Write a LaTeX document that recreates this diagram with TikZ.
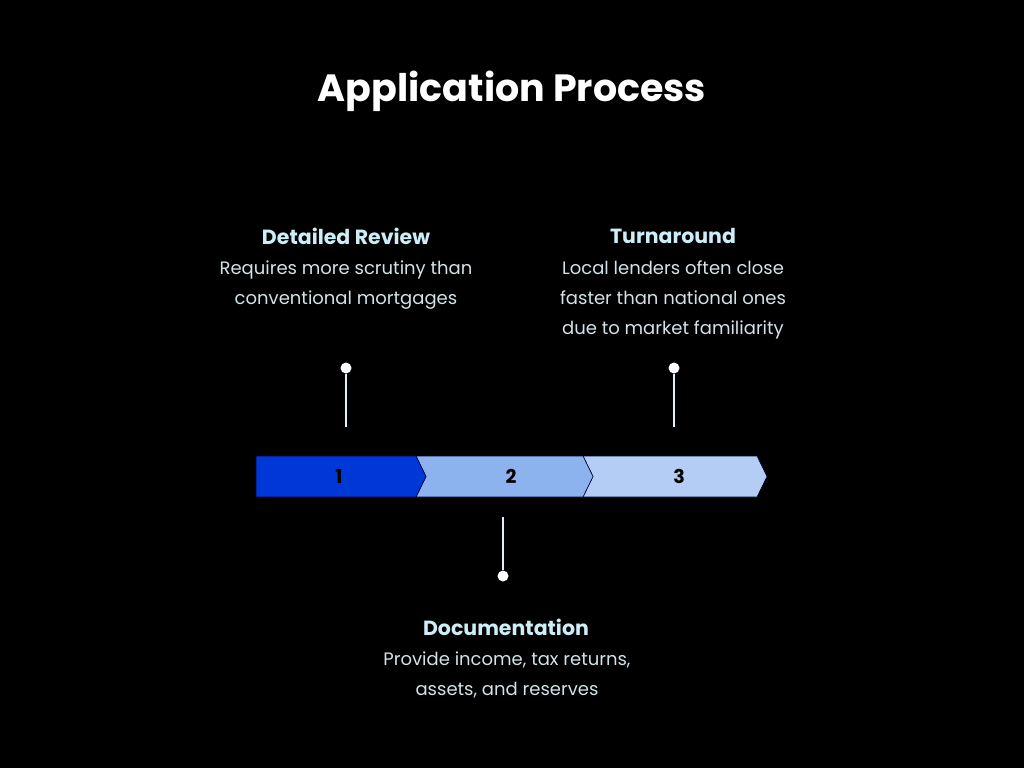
\documentclass[tikz,border=0pt]{standalone}
\usepackage{fontspec}
\setmainfont{Poppins}
\usetikzlibrary{positioning}
\definecolor{stepone}{HTML}{0038D8}
\definecolor{steptwo}{HTML}{8DB3EF}
\definecolor{stepthree}{HTML}{B4CDF5}
\definecolor{headcol}{HTML}{CDEEF7}
\definecolor{bodycol}{HTML}{D2E2E8}
\definecolor{pincol}{HTML}{DCF2F8}
\tikzset{
  head/.style={text=headcol, font=\fontsize{20.5}{24}\selectfont\bfseries},
  body/.style={text=bodycol, align=center, font=\fontsize{18}{30}\selectfont},
  dot/.style={circle, fill=white, inner sep=0pt, minimum size=11pt},
  stem/.style={draw=pincol, line width=2.5pt},
  chevron/.style={draw=black!80!blue, line width=0.6pt},
  num/.style={font=\fontsize{19}{22}\selectfont\bfseries, text=black}
}
\begin{document}
\begin{tikzpicture}[x=1pt, y=-1pt]
  \fill[black] (0,0) rectangle (1024,768);
  \useasboundingbox (0,0) rectangle (1024,768);

  % Title
  \node[text=white, font=\fontsize{38}{44}\selectfont\bfseries] (title) at (512,91) {Application Process};

  % Steps
  \filldraw[chevron, fill=stepthree] (583,456) -- (757,456) -- (767,476.5) -- (757,497) -- (583,497) -- (593,476.5) -- cycle;
  \filldraw[chevron, fill=steptwo] (416,456) -- (583,456) -- (593,476.5) -- (583,497) -- (416,497) -- (426,476.5) -- cycle;
  \filldraw[chevron, fill=stepone] (256,456) -- (416,456) -- (426,476.5) -- (416,497) -- (256,497) -- cycle;
  \node[num] (n1) at (339,476.5) {1};
  \node[num] (n2) at (511,476.5) {2};
  \node[num] (n3) at (679,476.5) {3};

  % Pins
  \node[dot] (p1) at (346,368) {};
  \node[dot] (p2) at (503,576) {};
  \node[dot] (p3) at (674,368) {};
  \coordinate (e1) at (346,427);
  \coordinate (e2) at (503,517);
  \coordinate (e3) at (674,427);
  \draw[stem] (p1) -- (e1);
  \draw[stem] (p2) -- (e2);
  \draw[stem] (p3) -- (e3);

  % Labels
  \node[head] (h1) at (346,236) {Detailed Review};
  \node[body] (b1) at (346,285) {Requires more scrutiny than\\conventional mortgages};
  \node[head] (h3) at (673,236) {Turnaround};
  \node[body] (b3) at (673,300) {Local lenders often close\\faster than national ones\\due to market familiarity};
  \node[head] (h2) at (506,627) {Documentation};
  \node[body] (b2) at (507,675) {Provide income, tax returns,\\assets, and reserves};
\end{tikzpicture}
\end{document}
